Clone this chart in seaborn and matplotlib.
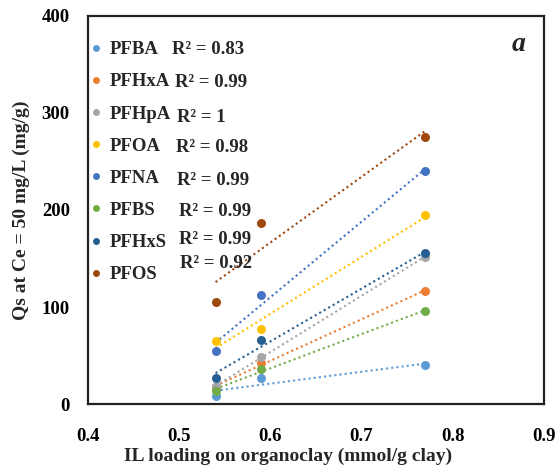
import matplotlib
matplotlib.use("Agg")
import matplotlib.pyplot as plt
from matplotlib.lines import Line2D
import seaborn as sns
import pandas as pd

# IL loading on organoclay (mmol/g clay)
il_loading = [0.54, 0.59, 0.77]

compounds = ["PFBA", "PFHxA", "PFHpA", "PFOA", "PFNA", "PFBS", "PFHxS", "PFOS"]
qs_pfba = [8.2, 27.1, 40.2]
qs_pfhxa = [17.0, 42.6, 116.8]
qs_pfhpa = [18.6, 48.0, 152.0]
qs_pfoa = [65.3, 77.3, 194.8]
qs_pfna = [55.0, 112.7, 240.0]
qs_pfbs = [13.7, 35.8, 96.2]
qs_pfhxs = [26.5, 66.0, 155.4]
qs_pfos = [104.8, 186.3, 275.6]
r2_labels = ["0.83", "0.99", "1", "0.98", "0.99", "0.99", "0.99", "0.92"]

colors = ["#5B9BD5", "#ED7D31", "#A5A5A5", "#FFC000",
          "#4472C4", "#70AD47", "#255E91", "#9E480E"]

series = [qs_pfba, qs_pfhxa, qs_pfhpa, qs_pfoa, qs_pfna, qs_pfbs, qs_pfhxs, qs_pfos]
df = pd.DataFrame(
    [(c, x, q) for c, vals in zip(compounds, series) for x, q in zip(il_loading, vals)],
    columns=["compound", "loading", "qs"],
)

sns.set_style("white")
plt.rcParams["font.family"] = ["Liberation Serif", "DejaVu Serif"]
plt.rcParams["font.weight"] = "bold"

fig = plt.figure(figsize=(5.6, 4.65), dpi=100)
ax = fig.add_axes([0.157, 0.131, 0.814, 0.835])

for comp, col in zip(compounds, colors):
    sub = df[df["compound"] == comp]
    sns.regplot(data=sub, x="loading", y="qs", ax=ax, ci=None, truncate=True,
                color=col,
                scatter_kws=dict(s=42, linewidths=0, alpha=1, zorder=3),
                line_kws=dict(linestyle=(0, (1, 1.5)), linewidth=1.5, zorder=2))

ax.set_xlim(0.4, 0.9)
ax.set_ylim(0, 400)
ax.set_xticks([0.4, 0.5, 0.6, 0.7, 0.8, 0.9])
ax.set_yticks([0, 100, 200, 300, 400])
ax.set_xticklabels(["0.4", "0.5", "0.6", "0.7", "0.8", "0.9"])
ax.tick_params(axis="both", direction="in", length=5, width=1.2,
               labelsize=13.5, colors="black")
ax.tick_params(axis="x", pad=17)
ax.tick_params(axis="y", pad=13)
for lab in ax.get_xticklabels() + ax.get_yticklabels():
    lab.set_fontweight("bold")
for sp in ax.spines.values():
    sp.set_visible(True)
    sp.set_color("#222222")
    sp.set_linewidth(1.6)

ax.set_xlabel("IL loading on organoclay (mmol/g clay)", fontsize=14,
              fontweight="bold")
ax.xaxis.set_label_coords(0.44, -0.112)
ax.set_ylabel("Qs at Ce = 50 mg/L (mg/g)", fontsize=14, fontweight="bold")
ax.yaxis.set_label_coords(-0.128, 0.5)

handles = [Line2D([], [], marker="o", linestyle="none", color=c,
                  markersize=5, markeredgewidth=0) for c in colors]
leg = ax.legend(handles, compounds, loc="upper left", frameon=False,
                bbox_to_anchor=(-0.03, 0.978), handlelength=0.55,
                handletextpad=0.45, labelspacing=0.8,
                prop=dict(size=13.5, weight="bold"))

# R² annotations beside the legend entries
r2_pos = [(0.184, 0.912), (0.191, 0.827), (0.195, 0.737), (0.193, 0.660),
          (0.195, 0.575), (0.200, 0.497), (0.200, 0.423), (0.202, 0.363)]
for (px, py), r2 in zip(r2_pos, r2_labels):
    ax.text(px, py, f"R² = {r2}", transform=ax.transAxes, fontsize=13.5,
            fontweight="bold", va="center", ha="left")

ax.text(0.945, 0.927, "a", transform=ax.transAxes, fontsize=20,
        fontstyle="italic", fontweight="bold", ha="center", va="center")

fig.savefig("out.png", dpi=100)
